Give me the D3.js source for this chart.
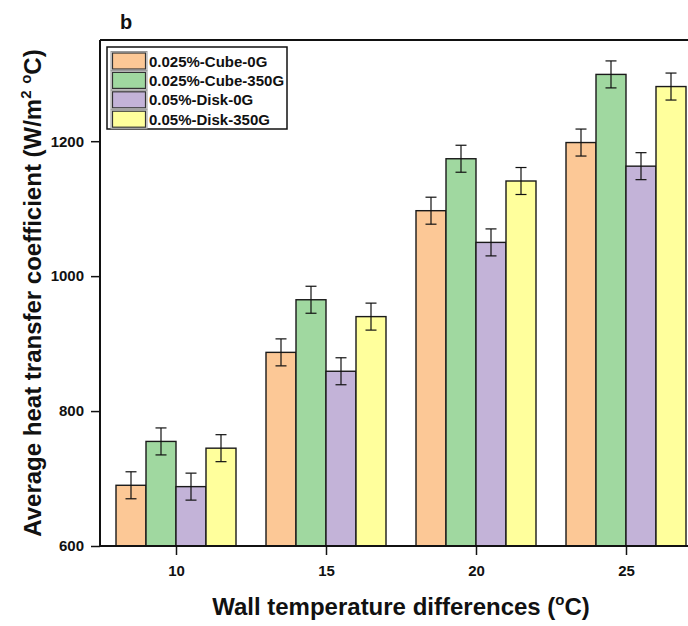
<!DOCTYPE html>
<html>
<head>
<meta charset="utf-8">
<script src="https://cdn.jsdelivr.net/npm/d3@7"></script>
<style>
  html, body { margin: 0; padding: 0; background: #fff; }
  svg { display: block; font-family: "Liberation Sans", Arial, sans-serif; }
</style>
</head>
<body>
<svg id="chart" width="688" height="626"></svg>
<script>
// ---- data ----
const categories = [10, 15, 20, 25];
const seriesNames = ["0.025%-Cube-0G", "0.025%-Cube-350G", "0.05%-Disk-0G", "0.05%-Disk-350G"];
const cube0G   = [690, 887, 1097, 1198];
const cube350G = [755, 965, 1174, 1299];
const disk0G   = [688, 859, 1050, 1163];
const disk350G = [745, 940, 1141, 1281];
const cube0GErr   = [20, 20, 20, 20];
const cube350GErr = [20, 20, 20, 20];
const disk0GErr   = [20, 20, 20, 20];
const disk350GErr = [20, 20, 20, 20];
const yTicks = [600, 800, 1000, 1200];
const colors = ["#FCC896", "#A0D8A0", "#C3B3D8", "#FFFF9C"];

const seriesValues = [cube0G, cube350G, disk0G, disk350G];
const seriesErrors = [cube0GErr, cube350GErr, disk0GErr, disk350GErr];

const svg = d3.select("#chart");
const mLeft = 100, mTop = 40, mBottom = 546;

const x = d3.scaleLinear().domain([7.5, 27.5]).range([101, 701]);
const y = d3.scaleLinear().domain([600, 1350]).range([mBottom, mTop]);
const barW = x(1) - x(0);
const offset = d3.scaleBand().domain(d3.range(seriesNames.length)).range([-2 * barW, 2 * barW]);

const g = svg.append("g");
seriesValues.forEach((vals, si) => {
  g.selectAll(null).data(categories.map((c, i) => ({c, v: vals[i]})))
    .enter().append("rect")
    .attr("x", d => x(d.c) + offset(si))
    .attr("y", d => y(d.v))
    .attr("width", offset.bandwidth())
    .attr("height", d => y(600) - y(d.v))
    .attr("fill", colors[si])
    .attr("stroke", "#1a1a1a")
    .attr("stroke-width", 1.4);
});
seriesValues.forEach((vals, si) => {
  categories.forEach((c, i) => {
    const cx = x(c) + offset(si) + offset.bandwidth() / 2;
    const v = vals[i], e = seriesErrors[si][i];
    const eg = g.append("g").attr("stroke", "#111").attr("stroke-width", 1.2);
    eg.append("line").attr("x1", cx).attr("x2", cx).attr("y1", y(v + e)).attr("y2", y(v - e));
    eg.append("line").attr("x1", cx - 5.5).attr("x2", cx + 5.5).attr("y1", y(v + e)).attr("y2", y(v + e));
    eg.append("line").attr("x1", cx - 5.5).attr("x2", cx + 5.5).attr("y1", y(v - e)).attr("y2", y(v - e));
  });
});

const yAxis = d3.axisLeft(y).tickValues(yTicks).tickSize(9).tickPadding(7).tickFormat(d3.format("d"));
const yg = svg.append("g").attr("transform", `translate(${mLeft},0)`).call(yAxis);
yg.select(".domain").attr("stroke", "#111").attr("stroke-width", 2).attr("d", `M0,${mTop}V${mBottom}`);
yg.selectAll(".tick line").attr("stroke", "#111").attr("stroke-width", 1.5);
yg.selectAll(".tick text").attr("font-size", 15).attr("font-weight", "bold").attr("fill", "#111");

const xAxis = d3.axisBottom(x).tickValues(categories).tickSize(9).tickPadding(10).tickFormat(d3.format("d"));
const xg = svg.append("g").attr("transform", `translate(0,${mBottom})`).call(xAxis);
xg.select(".domain").attr("stroke", "#111").attr("stroke-width", 2).attr("d", `M${mLeft},0H700`);
xg.selectAll(".tick line").attr("stroke", "#111").attr("stroke-width", 1.5);
xg.selectAll(".tick text").attr("font-size", 15).attr("font-weight", "bold").attr("fill", "#111");

svg.append("line").attr("x1", mLeft).attr("x2", 700).attr("y1", mTop).attr("y2", mTop)
  .attr("stroke", "#111").attr("stroke-width", 2);

svg.append("text").attr("x", 120).attr("y", 29).attr("font-size", 20).attr("font-weight", "bold")
  .attr("fill", "#111").text("b");

const xt = svg.append("text").attr("x", 401).attr("y", 615).attr("text-anchor", "middle")
  .attr("font-size", 24).attr("font-weight", "bold").attr("fill", "#111");
xt.append("tspan").text("Wall temperature differences (");
xt.append("tspan").attr("font-size", 15).attr("dy", -10).text("o");
xt.append("tspan").attr("dy", 10).text("C)");

const yt = svg.append("text").attr("transform", `translate(41,${(mTop + mBottom) / 2}) rotate(-90)`)
  .attr("text-anchor", "middle").attr("font-size", 24).attr("font-weight", "bold").attr("fill", "#111");
yt.append("tspan").text("Average heat transfer coefficient (W/m");
yt.append("tspan").attr("font-size", 15).attr("dy", -10).text("2");
yt.append("tspan").attr("dy", 10).text(" ");
yt.append("tspan").attr("font-size", 15).attr("dy", -10).text("o");
yt.append("tspan").attr("dy", 10).text("C)");

const lg = svg.append("g");
lg.append("rect").attr("x", 107).attr("y", 47).attr("width", 180).attr("height", 82)
  .attr("fill", "#fff").attr("stroke", "#111").attr("stroke-width", 1.5);
seriesNames.forEach((name, i) => {
  const ry = 53 + i * 19.4;
  lg.append("rect").attr("x", 111).attr("y", ry - 1.5).attr("width", 36).attr("height", 19)
    .attr("fill", "#fff").attr("stroke", "#999").attr("stroke-width", 1);
  lg.append("rect").attr("x", 112.5).attr("y", ry).attr("width", 33).attr("height", 16)
    .attr("fill", colors[i]).attr("stroke", "#333").attr("stroke-width", 1.2);
  lg.append("text").attr("x", 149).attr("y", ry + 13.5).attr("font-size", 15).attr("font-weight", "bold")
    .attr("fill", "#111").text(name);
});
</script>
</body>
</html>
